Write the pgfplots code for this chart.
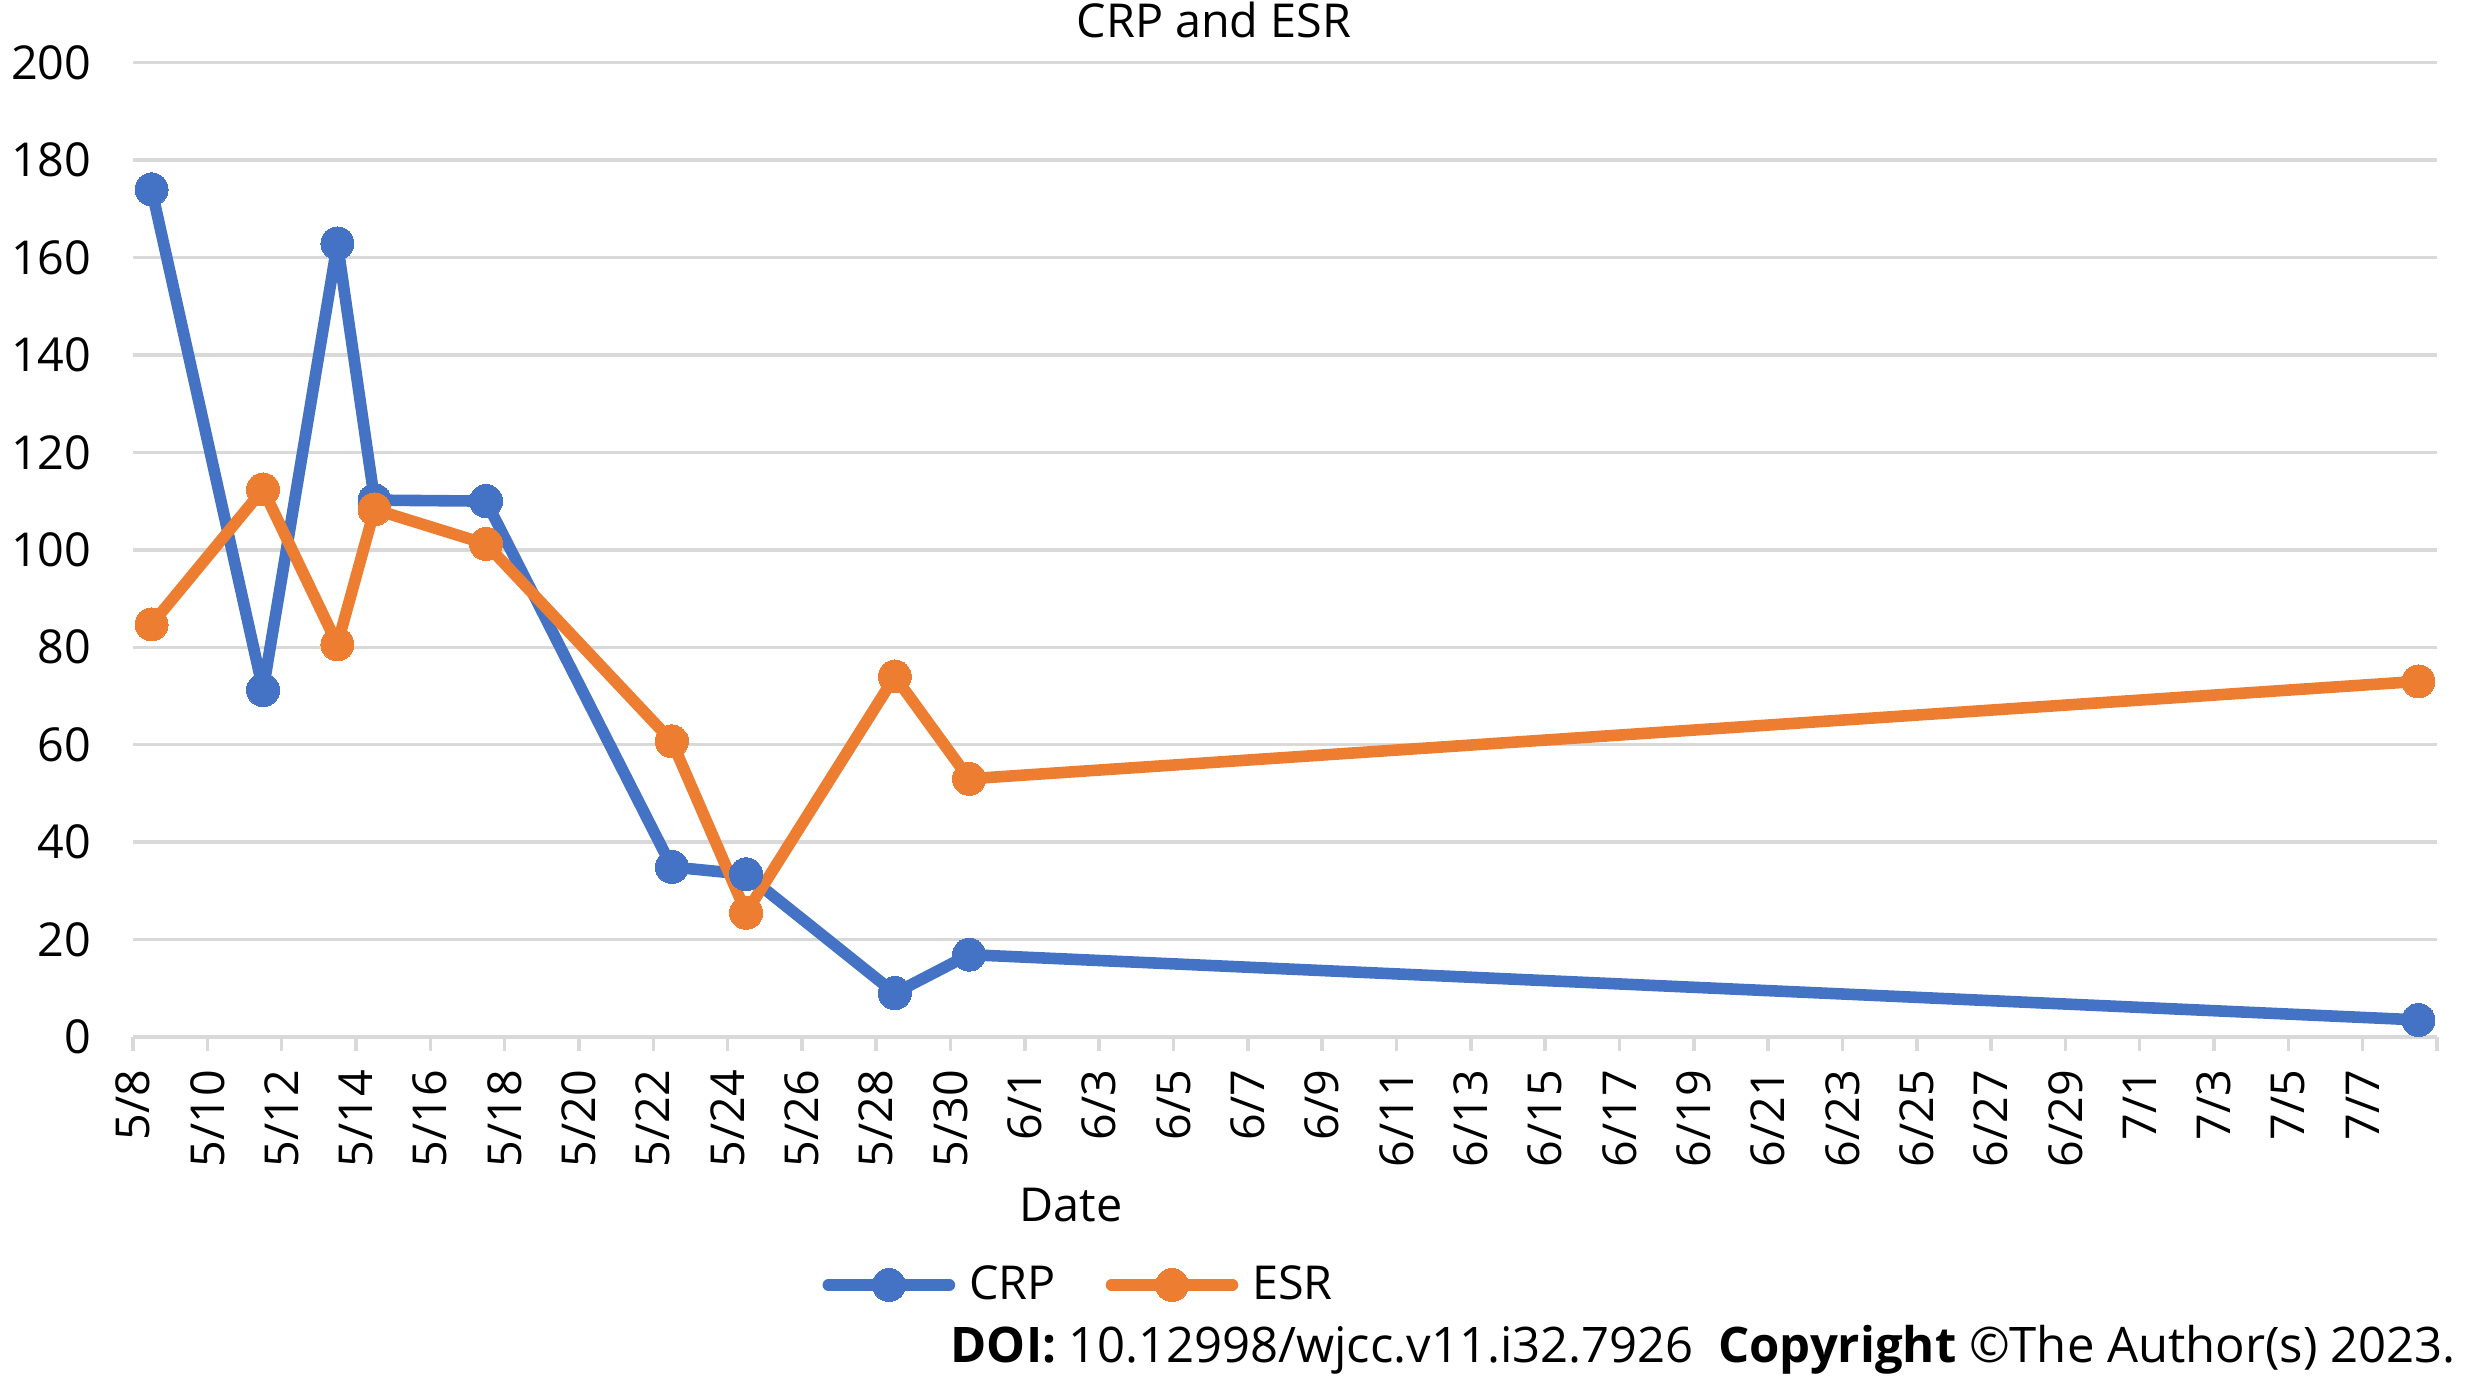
\documentclass[border=0pt]{standalone}
\usepackage{fontspec}
\setmainfont{Open Sans}
\usepackage{pgfplots}
\pgfplotsset{compat=1.18}
\definecolor{crpblue}{HTML}{4472C4}
\definecolor{esrorange}{HTML}{ED7D31}
\definecolor{gridgray}{HTML}{D9D9D9}
\newcommand{\chartfont}{\fontsize{13.3}{16}\selectfont}
\begin{document}
\begin{tikzpicture}
\begin{axis}[
  at={(1.33cm,3.41cm)}, anchor=south west,
  scale only axis, width=23.04cm, height=9.743cm,
  xmin=0, xmax=62, ymin=0, ymax=200,
  axis x line*=bottom, axis y line*=left,
  x axis line style={draw=gridgray, line width=1pt},
  y axis line style={draw=none},
  xtick={0,2,...,62},
  xticklabels={5/8,5/10,5/12,5/14,5/16,5/18,5/20,5/22,5/24,5/26,5/28,5/30,6/1,6/3,6/5,6/7,6/9,6/11,6/13,6/15,6/17,6/19,6/21,6/23,6/25,6/27,6/29,7/1,7/3,7/5,7/7,{}},
  ytick={0,20,...,200},
  ymajorgrids, grid style={draw=gridgray, line width=1pt},
  xtick align=outside,
  major tick length=0.14cm,
  xtick style={draw=gridgray, line width=1pt},
  ytick style={draw=none},
  tick label style={font=\chartfont},
  /pgf/number format/assume math mode=true,
  yticklabel style={anchor=east, inner sep=0pt, xshift=-0.41cm},
  xticklabel style={yshift=-0.18cm, rotate=90, anchor=east, inner sep=0pt},
  legend columns=2,
  legend style={
    at={(0.299,-0.2545)}, anchor=west,
    draw=none, fill=none, inner sep=0pt,
    font=\chartfont,
    nodes={inner sep=0pt},
    column sep=0.14cm,
    /tikz/every even column/.append style={column sep=0.5cm},
  },
  legend image code/.code={\draw[mark repeat=2, mark phase=2, #1] plot coordinates {(0cm,0cm) (0.605cm,0cm) (1.21cm,0cm)};},
  every axis plot/.append style={line width=3.3pt, line cap=round, line join=round, mark=*, mark size=0.165cm},
]
\addplot[color=crpblue, mark options={line width=0pt, draw=none, fill=crpblue}] coordinates {
  (0.5,174.0) (3.5,71.2) (5.5,162.9) (6.5,110.2) (9.5,110.0)
  (14.5,34.9) (16.5,33.4) (20.5,9.0) (22.5,16.9) (61.5,3.5)
};
\addlegendentry{CRP}
\addplot[color=esrorange, mark options={line width=0pt, draw=none, fill=esrorange}] coordinates {
  (0.5,84.7) (3.5,112.4) (5.5,80.6) (6.5,108.3) (9.5,101.2)
  (14.5,60.7) (16.5,25.5) (20.5,74.0) (22.5,53.0) (61.5,73.0)
};
\addlegendentry{ESR}
\end{axis}
\node[anchor=base, font=\chartfont, inner sep=0pt] at (12.14,13.40) {CRP and ESR};
\node[anchor=base, font=\chartfont, inner sep=0pt] at (10.71,1.56) {Date};
\node[anchor=base west, inner sep=0pt] at (9.50,0.15) {\resizebox{15.05cm}{!}{\textbf{DOI:} 10.12998/wjcc.v11.i32.7926\hspace{0.5em}\textbf{Copyright} ©The Author(s) 2023.}};
\pgfresetboundingbox
\useasboundingbox (0,0) rectangle (24.68,13.78);
\end{tikzpicture}
\end{document}
